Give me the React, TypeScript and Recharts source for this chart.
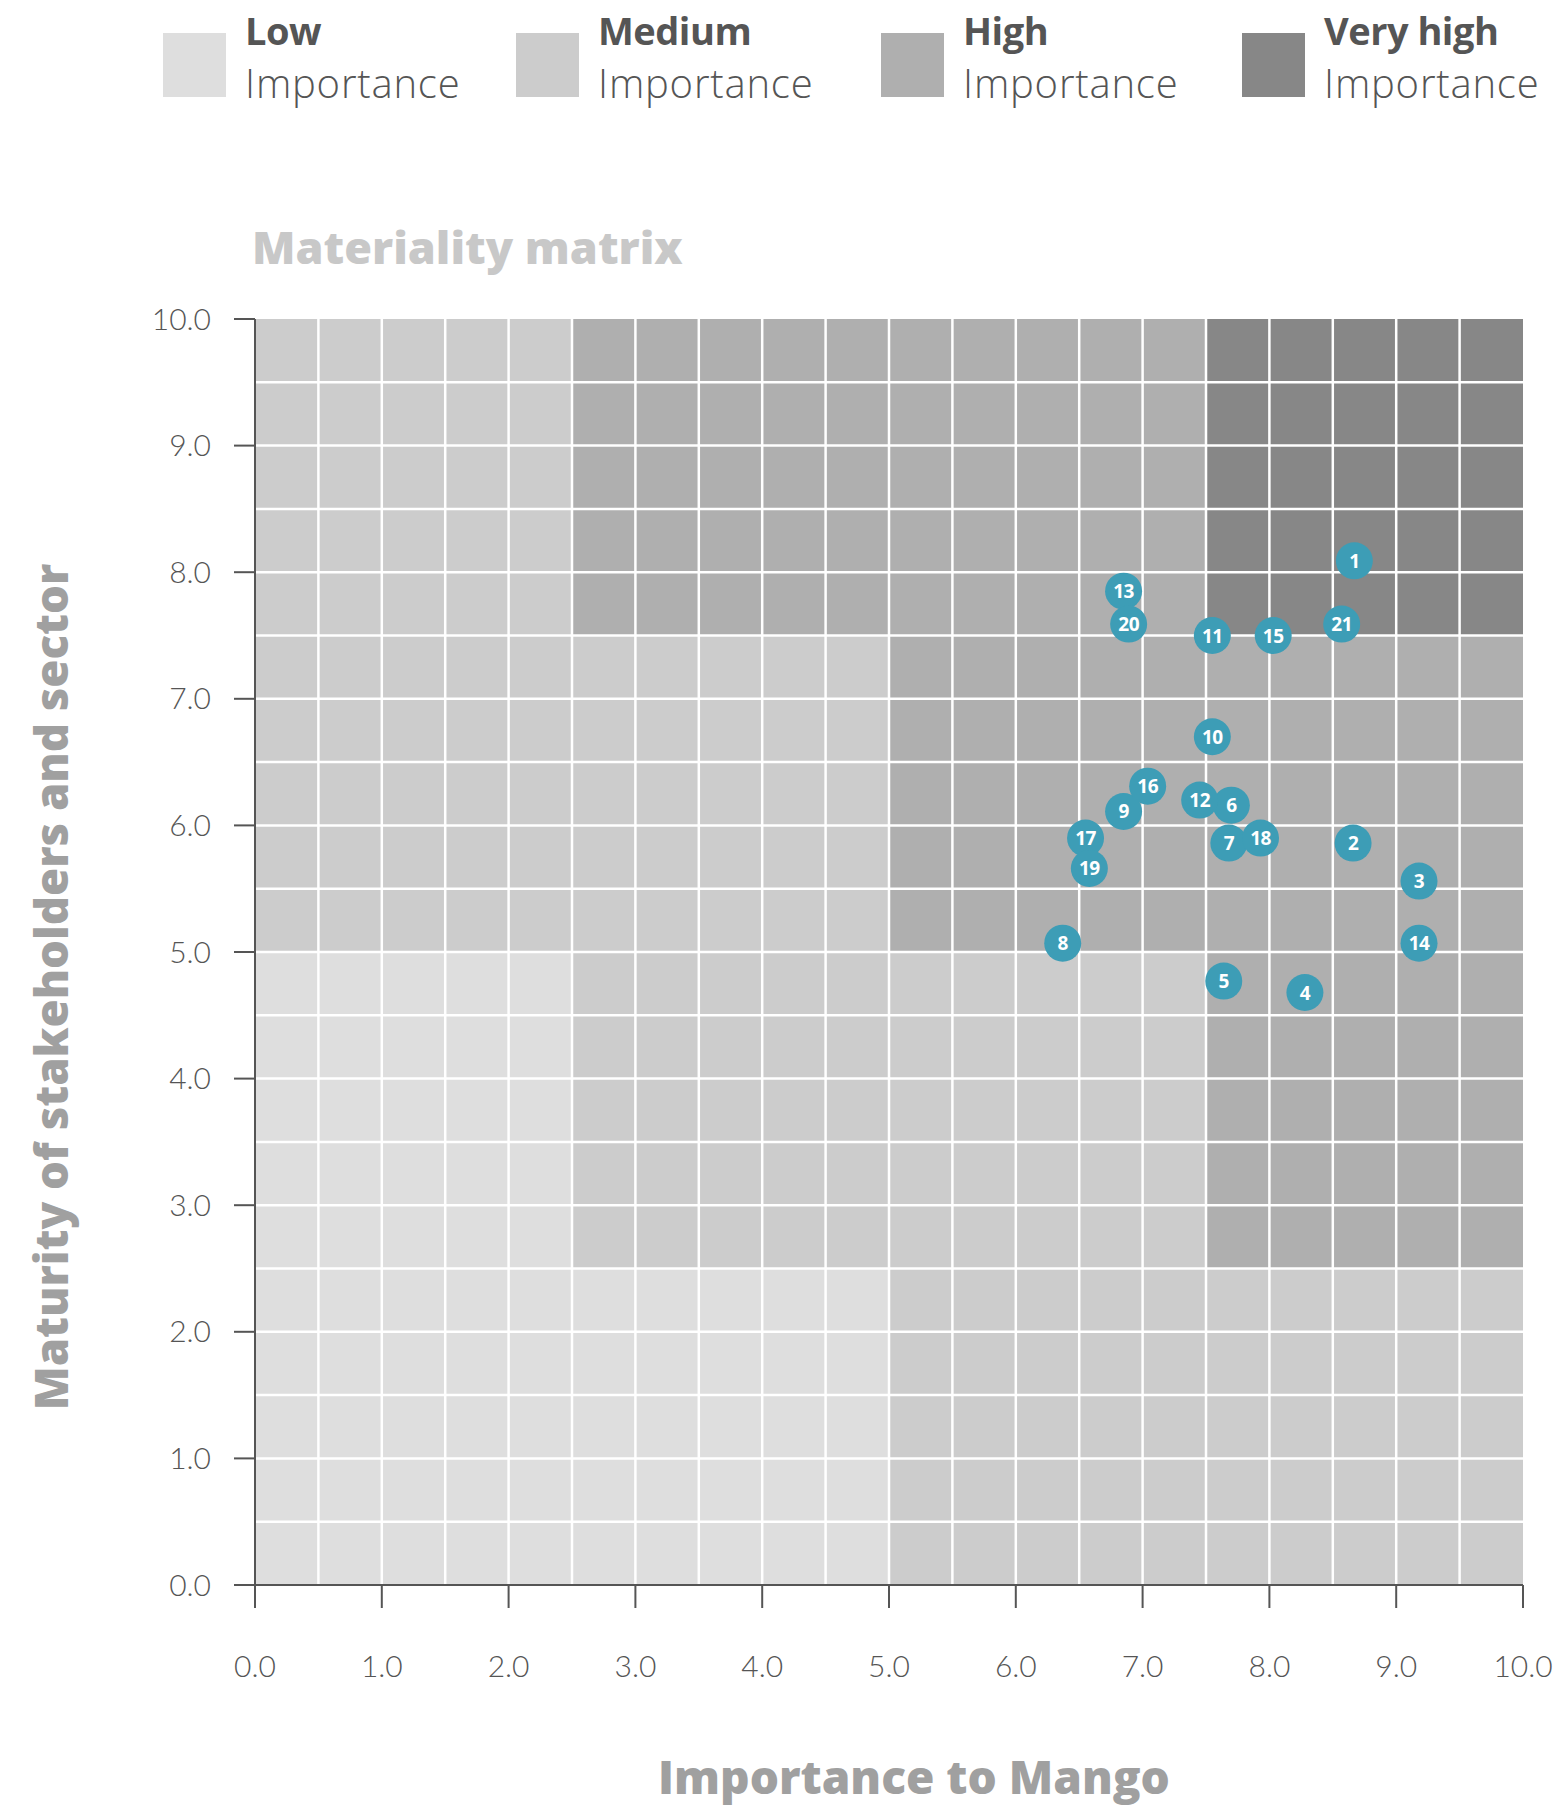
import React from "react";
import {
  ScatterChart,
  Scatter,
  XAxis,
  YAxis,
  ReferenceArea,
  ReferenceLine,
} from "recharts";

// topics 1..21
const topicIds = [
  "1", "2", "3", "4", "5", "6", "7", "8", "9", "10", "11",
  "12", "13", "14", "15", "16", "17", "18", "19", "20", "21",
];
const importanceToMango = [
  8.67, 8.66, 9.18, 8.28, 7.64, 7.7, 7.68, 6.37, 6.85, 7.55, 7.55,
  7.45, 6.85, 9.18, 8.03, 7.04, 6.55, 7.93, 6.58, 6.89, 8.57,
];
const stakeholderMaturity = [
  8.09, 5.86, 5.56, 4.68, 4.77, 6.16, 5.86, 5.07, 6.11, 6.7, 7.5,
  6.2, 7.85, 5.07, 7.5, 6.31, 5.9, 5.9, 5.66, 7.59, 7.59,
];

const axisTicks = [0, 1, 2, 3, 4, 5, 6, 7, 8, 9, 10];
const gridSteps = [0.5, 1, 1.5, 2, 2.5, 3, 3.5, 4, 4.5, 5, 5.5, 6, 6.5, 7, 7.5, 8, 8.5, 9, 9.5];

const bandEdges = [0, 2.5, 5, 7.5, 10];
// rows from bottom (maturity 0-2.5) to top, columns left to right
const bandLevels = [
  ["Low", "Low", "Medium", "Medium"],
  ["Low", "Medium", "Medium", "High"],
  ["Medium", "Medium", "High", "High"],
  ["Medium", "High", "High", "Very high"],
];

const levelNames = ["Low", "Medium", "High", "Very high"];
const levelColors: Record<string, string> = {
  Low: "#dedede",
  Medium: "#cccccc",
  High: "#afafaf",
  "Very high": "#878787",
};
const legendX = [163, 516, 881, 1242];

const points = topicIds.map((id, i) => ({
  id,
  x: importanceToMango[i],
  y: stakeholderMaturity[i],
}));

const bands: { x1: number; x2: number; y1: number; y2: number; level: string }[] = [];
bandLevels.forEach((row, r) =>
  row.forEach((level, c) =>
    bands.push({
      x1: bandEdges[c],
      x2: bandEdges[c + 1],
      y1: bandEdges[r],
      y2: bandEdges[r + 1],
      level,
    })
  )
);

const textGrey = "#555555";
const FONT = "Lato, 'Open Sans', sans-serif";
const HEAVY = "'Open Sans', Lato, sans-serif";

const Bubble = (props: any) => {
  const { cx, cy, payload } = props;
  if (cx == null || cy == null) return null;
  return (
    <g>
      <circle cx={cx} cy={cy} r={18.5} fill="#3d9db6" />
      <text
        x={cx}
        y={cy}
        dy={7}
        textAnchor="middle"
        fill="#ffffff"
        fontSize={19}
        fontWeight={700}
        fontFamily={HEAVY}
        letterSpacing={-0.5}
      >
        {payload.id}
      </text>
    </g>
  );
};

const fmt = (v: number) => v.toFixed(1);

export default function App() {
  return (
    <div
      style={{
        position: "absolute",
        left: 0,
        top: 0,
        width: 1553,
        height: 1808,
        background: "#fff",
        fontFamily: FONT,
      }}
    >
      <ScatterChart
        width={1553}
        height={1808}
        margin={{ top: 319, right: 30, bottom: 123, left: 155 }}
      >
        {bands.map((b, i) => (
          <ReferenceArea
            key={`band-${i}`}
            x1={b.x1}
            x2={b.x2}
            y1={b.y1}
            y2={b.y2}
            fill={levelColors[b.level]}
            fillOpacity={1}
            stroke="none"
          />
        ))}
        {gridSteps.map((v) => (
          <ReferenceLine key={`vx-${v}`} x={v} stroke="#ffffff" strokeWidth={2.5} />
        ))}
        {gridSteps.map((v) => (
          <ReferenceLine key={`hy-${v}`} y={v} stroke="#ffffff" strokeWidth={2.5} />
        ))}
        <XAxis
          type="number"
          dataKey="x"
          domain={[0, 10]}
          ticks={axisTicks}
          tickFormatter={fmt}
          height={100}
          tickSize={23}
          tickMargin={48}
          axisLine={{ stroke: textGrey, strokeWidth: 2 }}
          tickLine={{ stroke: textGrey, strokeWidth: 2 }}
          tick={{ fill: textGrey, fontSize: 30, fontWeight: 300, fontFamily: FONT }}
        />
        <YAxis
          type="number"
          dataKey="y"
          domain={[0, 10]}
          ticks={axisTicks}
          tickFormatter={fmt}
          width={100}
          tickSize={21}
          tickMargin={23}
          axisLine={{ stroke: textGrey, strokeWidth: 2 }}
          tickLine={{ stroke: textGrey, strokeWidth: 2 }}
          tick={{ fill: textGrey, fontSize: 30, fontWeight: 300, fontFamily: FONT }}
        />
        <Scatter data={points} shape={Bubble} isAnimationActive={false} />
      </ScatterChart>

      <svg
        width={1553}
        height={1808}
        style={{ position: "absolute", left: 0, top: 0, pointerEvents: "none" }}
      >
        {levelNames.map((name, i) => (
          <g key={name}>
            <rect x={legendX[i]} y={33} width={63} height={64} fill={levelColors[name]} />
            <text
              x={legendX[i] + 82}
              y={45}
              fill={textGrey}
              fontSize={38}
              fontWeight={700}
              fontFamily={HEAVY}
              letterSpacing={-0.5}
            >
              {name}
            </text>
            <text
              x={legendX[i] + 82}
              y={98}
              fill={textGrey}
              fontSize={40}
              fontWeight={300}
              fontFamily={HEAVY}
              letterSpacing={0.8}
            >
              Importance
            </text>
          </g>
        ))}
        <text x={252} y={264} fill="#c8c8c8" fontSize={45} fontWeight={800} fontFamily={HEAVY}>
          Materiality matrix
        </text>
        <text
          x={914}
          y={1794}
          textAnchor="middle"
          fill="#a0a0a0"
          fontSize={46}
          fontWeight={800}
          fontFamily={HEAVY}
        >
          Importance to Mango
        </text>
        <text
          transform="translate(68, 987) rotate(-90)"
          textAnchor="middle"
          fill="#a0a0a0"
          fontSize={45.5}
          fontWeight={800}
          fontFamily={HEAVY}
        >
          Maturity of stakeholders and sector
        </text>
      </svg>
    </div>
  );
}
